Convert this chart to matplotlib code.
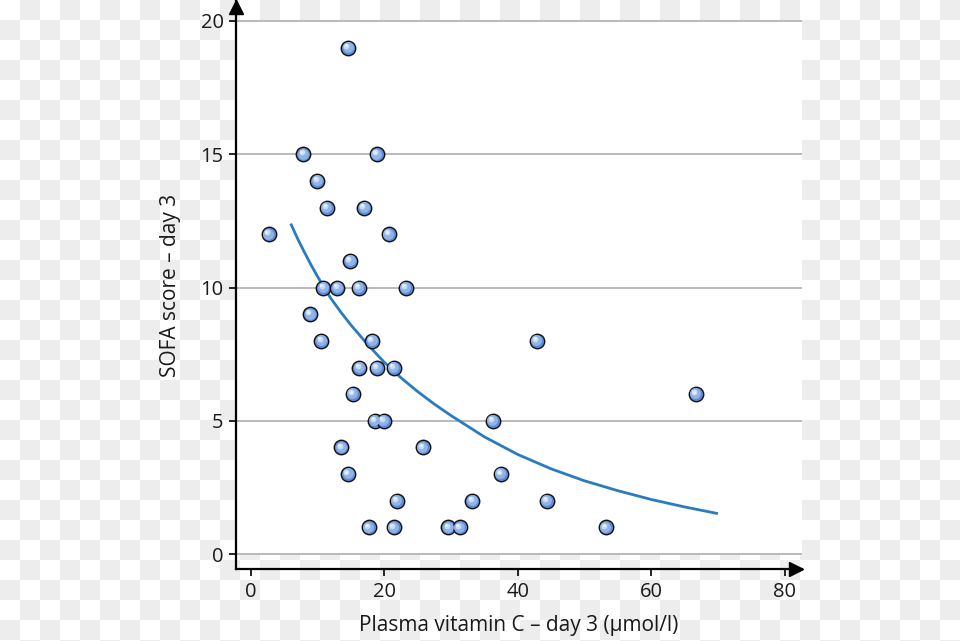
import matplotlib
matplotlib.use("Agg")
import matplotlib.pyplot as plt
import matplotlib.transforms as mtransforms
from matplotlib.patches import Rectangle
import numpy as np

plt.rcParams['font.family'] = ['Open Sans', 'DejaVu Sans']

# scatter: plasma vitamin C (umol/l) vs SOFA score, day 3
vit_c = [2.7, 7.9, 10.0, 11.4, 17.0, 14.6, 18.9, 20.7, 14.9,
         10.9, 13.0, 16.2, 23.2, 8.9, 10.6, 18.2, 42.9,
         16.3, 18.9, 21.4, 15.3, 66.7, 18.6, 19.9, 36.3,
         13.6, 25.8, 14.6, 37.5, 21.9, 33.2, 44.4,
         17.7, 21.4, 29.6, 31.3, 53.2]
sofa = [12, 15, 14, 13, 13, 19, 15, 12, 11,
        10, 10, 10, 10, 9, 8, 8, 8,
        7, 7, 7, 6, 6, 5, 5, 5,
        4, 4, 3, 3, 2, 2, 2,
        1, 1, 1, 1, 1]

# fitted curve
fit_x = [6, 7, 8, 9, 10, 11, 12, 13.5, 15, 17.5, 20, 22.5, 25, 27.5, 30, 35,
         40, 45, 50, 55, 60, 65, 70]
fit_y = [12.4, 11.85, 11.35, 10.87, 10.42, 10.0, 9.6, 9.08, 8.6, 7.87, 7.2, 6.62,
         6.1, 5.63, 5.2, 4.4, 3.74, 3.2, 2.75, 2.38, 2.05, 1.77, 1.52]

x_ticks = [0, 20, 40, 60, 80]
y_ticks = [0, 5, 10, 15, 20]

W, H = 960, 641
fig = plt.figure(figsize=(W / 100, H / 100), dpi=100)

# checkerboard backdrop
jj, ii = np.mgrid[0:H, 0:W]
board = np.where(((ii // 20) + (jj // 20)) % 2 == 1, 0.933, 1.0)
rgb = np.dstack([board, board, board])
fig.figimage(rgb, xo=0, yo=0, origin='upper', zorder=-10)

left, right = 236 / W, 802 / W
bottom, top = (H - 569.3) / H, (H - 1) / H
ax = fig.add_axes([left, bottom, right - left, top - bottom])
ax.set_facecolor('none')
ax.set_zorder(5)

xmin, xmax = -2.2, 82.6
ymin, ymax = -0.57, 20.75
ax.set_xlim(xmin, xmax)
ax.set_ylim(ymin, ymax)

ax.add_patch(Rectangle((xmin, 0), xmax - xmin, 20, facecolor='white',
                       edgecolor='none', zorder=0))
for yv in y_ticks:
    ax.axhline(yv, color='#b4b4b4', lw=1.3, zorder=1)

ax.plot(fit_x, fit_y, color='#2a7bbf', lw=2.0, zorder=2, solid_capstyle='butt')

# sphere-like markers
ax.plot(vit_c, sofa, 'o', ms=10.4, mfc='#5f8bd2', mec='#111111', mew=1.0,
        zorder=3, linestyle='none')
t1 = mtransforms.offset_copy(ax.transData, fig=fig, x=-0.4, y=0.5, units='points')
ax.plot(vit_c, sofa, 'o', ms=7.8, mfc='#8fb3ea', mec='none', zorder=4,
        transform=t1, linestyle='none')
t2 = mtransforms.offset_copy(ax.transData, fig=fig, x=-1.2, y=1.4, units='points')
ax.plot(vit_c, sofa, 'o', ms=4.2, mfc='#c9dbf6', mec='none', zorder=5,
        transform=t2, linestyle='none')
t3 = mtransforms.offset_copy(ax.transData, fig=fig, x=-1.6, y=1.9, units='points')
ax.plot(vit_c, sofa, 'o', ms=2.0, mfc='#eef4fd', mec='none', zorder=5,
        transform=t3, linestyle='none')

for side in ['top', 'right']:
    ax.spines[side].set_visible(False)
for side in ['left', 'bottom']:
    ax.spines[side].set_linewidth(1.6)
    ax.spines[side].set_color('black')
    ax.spines[side].set_zorder(6)

# arrow heads
ta = mtransforms.offset_copy(ax.transAxes, fig=fig, x=-4.5, y=0, units='points')
ax.plot(1, 0, marker='>', color='black', ms=10, transform=ta, clip_on=False, zorder=7)
tb = mtransforms.offset_copy(ax.transAxes, fig=fig, x=0, y=-4.5, units='points')
ax.plot(0, 1, marker='^', color='black', ms=10, transform=tb, clip_on=False, zorder=7)

ax.set_xticks(x_ticks)
ax.set_yticks(y_ticks)
ax.tick_params(axis='both', direction='out', length=5, width=1.2, color='black',
               labelsize=14.5, labelcolor='#1a1a1a', pad=4)

ax.set_xlabel('Plasma vitamin C – day 3 (µmol/l)', fontsize=15, color='#1a1a1a')
ax.set_ylabel('SOFA score – day 3', fontsize=15, color='#1a1a1a')
ax.xaxis.set_label_coords(0.5, -0.080)
ax.yaxis.set_label_coords(-0.097, 0.5)

fig.savefig('out.png', dpi=100)
